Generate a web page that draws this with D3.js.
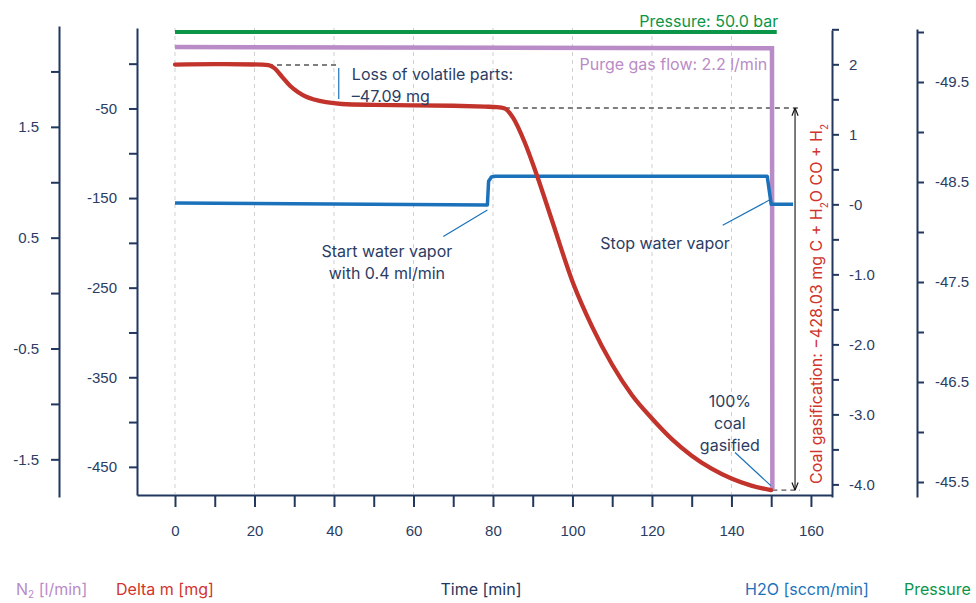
<!DOCTYPE html>
<html>
<head>
<meta charset="utf-8">
<style>
  body { margin: 0; background: #fff; }
  svg { font-family: Inter, "Noto Sans", sans-serif; }
  .tick text { font-size: 15px; fill: #2b3d63; }
  .tick line, .domain { stroke: #22375e; stroke-width: 2px; }
  .grid line { stroke: #cfcfcf; stroke-dasharray: 4,4; stroke-width: 1px; }
  .note { font-size: 16px; fill: #2b3d63; }
</style>
</head>
<body>
<svg width="976" height="603"></svg>
<script src="https://cdn.jsdelivr.net/npm/d3@7"></script>
<script>
// ---- data ----
var timeTicks = d3.range(0, 161, 10);
var timeLabels = [0, 20, 40, 60, 80, 100, 120, 140, 160];
var gridTimes = [0, 20, 40, 60, 80, 100, 120, 140];

// Delta m [mg]
var massTime   = [0, 10, 22, 23.5, 25, 27, 29, 31, 33, 35, 38, 42, 50, 60, 70, 78, 81, 83, 85, 88, 91, 95, 100, 105, 110, 115, 120, 125, 130, 135, 140, 145, 150];
var massValues = [-1, -0.5, -1, -1.5, -5, -15, -25, -32, -37, -40, -43, -45, -46, -46.5, -47, -48, -48.5, -50, -60, -88, -124, -177, -243, -294, -336, -370, -396, -419, -437.5, -452, -463, -471, -476];

// H2O [sccm/min]
var waterTime   = [0, 78.6, 78.9, 79.6, 80.5, 149.0, 150.0, 155.5];
var waterValues = [0.02, -0.01, 0.33, 0.39, 0.4, 0.4, 0.0, 0.0];

// N2 purge [l/min]
var purgeTime   = [0, 150.2, 150.3];
var purgeValues = [2.22, 2.21, -1.78];

// Pressure
var pressureTime   = [0, 151.4];
var pressureValues = [-50.0, -50.0];

var massTicks = [0, -50, -100, -150, -200, -250, -300, -350, -400, -450];
var massLabels = [-50, -150, -250, -350, -450];
var n2Ticks = [2, 1.5, 1, 0.5, 0, -0.5, -1, -1.5];
var n2Labels = [1.5, 0.5, -0.5, -1.5];
var waterTicks = d3.range(2.5, -4.01, -0.5);
var waterLabelText = {"2": "2", "1": "1", "0": "-0", "-1": "-1.0", "-2": "-2.0", "-3": "-3.0", "-4": "-4.0"};
var pressureTicks = d3.range(-50, -45.49, 0.5);
var pressureLabels = [-49.5, -48.5, -47.5, -46.5, -45.5];

var navy = "#22375e", red = "#c1332b", blue = "#1b72ba", purple = "#b98bc7", green = "#0b9548";

var svg = d3.select("svg");

// ---- scales ----
var x = d3.scaleLinear().domain([-9.56, 165.3]).range([137, 832]);
var yMass = d3.scaleLinear().domain([-481.4, 39.8]).range([495, 28]);
var yN2 = d3.scaleLinear().domain([-1.84, 2.41]).range([497, 26]);
var yWater = d3.scaleLinear().domain([-4.18, 2.49]).range([497, 30]);
var yPres = d3.scaleLinear().domain([-50.03, -45.35]).range([29, 497]);

// grid
svg.append("g").attr("class", "grid")
  .selectAll("line").data(gridTimes).enter().append("line")
  .attr("x1", d => x(d)).attr("x2", d => x(d))
  .attr("y1", 28).attr("y2", 494);

// axes
function fmt(list, f) {
  return function(d) {
    return list.some(v => Math.abs(v - d) < 1e-6) ? (f ? f(d) : d) : "";
  };
}

svg.append("g").attr("transform", "translate(0,495)")
  .call(d3.axisBottom(x).tickValues(timeTicks).tickSize(12).tickSizeOuter(0).tickPadding(18)
    .tickFormat(fmt(timeLabels)));

svg.append("g").attr("transform", "translate(137,0)")
  .call(d3.axisLeft(yMass).tickValues(massTicks).tickSize(8).tickSizeOuter(0).tickPadding(12)
    .tickFormat(fmt(massLabels)));

svg.append("g").attr("transform", "translate(59,0)")
  .call(d3.axisLeft(yN2).tickValues(n2Ticks).tickSize(8).tickSizeOuter(0).tickPadding(12)
    .tickFormat(fmt(n2Labels)));

svg.append("g").attr("transform", "translate(832,0)")
  .call(d3.axisRight(yWater).tickValues(waterTicks).tickSize(7).tickSizeOuter(0).tickPadding(10)
    .tickFormat(d => { var k = String(Math.round(d * 10) / 10); return waterLabelText[k] || ""; }));

svg.append("g").attr("transform", "translate(917,0)")
  .call(d3.axisRight(yPres).tickValues(pressureTicks).tickSize(7).tickSizeOuter(0).tickPadding(11)
    .tickFormat(fmt(pressureLabels)));

// ---- dashed helper lines and arrow ----
var defs = svg.append("defs");
["arrS", "arrE"].forEach(function(id) {
  defs.append("marker").attr("id", id).attr("viewBox", "0 0 10 10")
    .attr("refX", 10).attr("refY", 5).attr("markerWidth", 7).attr("markerHeight", 7)
    .attr("orient", "auto-start-reverse")
    .append("path").attr("d", "M0,1 L10,5 L0,9").attr("fill", "none").attr("stroke", "#111").attr("stroke-width", 1.5);
});

var dashed = [
  [23.4, -1.5, 41.5, -1.5],
  [83, -49.5, 157.2, -49.5],
  [150.3, -476, 157.2, -476]
];
svg.append("g").selectAll("line").data(dashed).enter().append("line")
  .attr("x1", d => x(d[0])).attr("y1", d => yMass(d[1]))
  .attr("x2", d => x(d[2])).attr("y2", d => yMass(d[3]))
  .attr("stroke", "#555").attr("stroke-width", 1.3).attr("stroke-dasharray", "5,4");

svg.append("line")
  .attr("x1", x(156)).attr("x2", x(156))
  .attr("y1", yMass(-49.5)).attr("y2", yMass(-476))
  .attr("stroke", "#111").attr("stroke-width", 1.1)
  .attr("marker-start", "url(#arrS)").attr("marker-end", "url(#arrE)");

// ---- series ----
var line = d3.line().curve(d3.curveMonotoneX);

svg.append("path")
  .attr("d", d3.line()(pressureTime.map((t, i) => [x(t), yPres(pressureValues[i])])))
  .attr("fill", "none").attr("stroke", green).attr("stroke-width", 4);

svg.append("path")
  .attr("d", d3.line()(purgeTime.map((t, i) => [x(t), yN2(purgeValues[i])])))
  .attr("fill", "none").attr("stroke", purple).attr("stroke-width", 4.5);

svg.append("path")
  .attr("d", d3.line().curve(d3.curveLinear)(waterTime.map((t, i) => [x(t), yWater(waterValues[i])])))
  .attr("fill", "none").attr("stroke", blue).attr("stroke-width", 3.5).attr("stroke-linejoin", "round");

svg.append("path")
  .attr("d", line(massTime.map((t, i) => [x(t), yMass(massValues[i])])))
  .attr("fill", "none").attr("stroke", red).attr("stroke-width", 4.3).attr("stroke-linecap", "round");

// ---- leader lines ----
var leaders = [
  [x(41.2), yMass(-4.8), x(41.2), yMass(-39.4)],
  [x(67.5), yWater(-0.46), x(78.6), yWater(-0.08)],
  [x(137.8), yWater(-0.3), x(150.0), yWater(0.075)],
  [x(140.9), yMass(-434), x(149.9), yMass(-471)]
];
svg.append("g").selectAll("line").data(leaders).enter().append("line")
  .attr("x1", d => d[0]).attr("y1", d => d[1]).attr("x2", d => d[2]).attr("y2", d => d[3])
  .attr("stroke", blue).attr("stroke-width", 1.2);

// ---- annotation texts ----
function note(tx, ty, lines, anchor, color) {
  var t = svg.append("text").attr("class", "note").attr("text-anchor", anchor || "start")
    .style("fill", color || null);
  lines.forEach(function(s, i) {
    t.append("tspan").attr("x", tx).attr("y", ty + i * 22).text(s);
  });
}
note(x(151.8), 27, ["Pressure: 50.0 bar"], "end", green);
note(x(149.0), 70, ["Purge gas flow: 2.2 l/min"], "end", purple);
note(x(44.5), 80, ["Loss of volatile parts:", "\u201347.09 mg"]);
note(x(53.3), 257, ["Start water vapor", "with 0.4 ml/min"], "middle");
note(x(123.3), 249, ["Stop water vapor"], "middle");
note(x(139.6), 407, ["100%", "coal", "gasified"], "middle");

// rotated gasification label
var rot = svg.append("text").attr("class", "note").attr("text-anchor", "middle")
  .attr("transform", "translate(822,304) rotate(-90)")
  .style("fill", "#d0342c");
rot.append("tspan").text("Coal gasification: \u2212428.03 mg C + H");
rot.append("tspan").attr("baseline-shift", "sub").attr("font-size", "10px").text("2");
rot.append("tspan").text("O CO + H");
rot.append("tspan").attr("baseline-shift", "sub").attr("font-size", "10px").text("2");

// ---- axis titles ----
var n2t = svg.append("text").attr("class", "note").attr("x", 16).attr("y", 595).style("fill", purple);
n2t.append("tspan").text("N");
n2t.append("tspan").attr("baseline-shift", "-3px").attr("font-size", "10px").text("2");
n2t.append("tspan").text(" [l/min]");
note(116, 595, ["Delta m [mg]"], "start", "#d0342c");
note(481, 595, ["Time [min]"], "middle", navy);
note(745, 595, ["H2O [sccm/min]"], "start", blue);
note(904, 595, ["Pressure"], "start", green);
</script>
</body>
</html>
